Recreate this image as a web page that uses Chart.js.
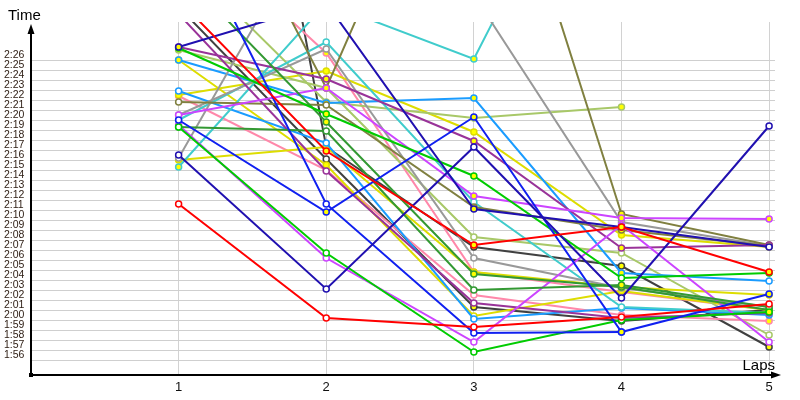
<!DOCTYPE html>
<html>
<head>
<meta charset="utf-8">
<script src="https://cdn.jsdelivr.net/npm/chart.js@4/dist/chart.umd.min.js"></script>
<style>
html, body { margin: 0; padding: 0; background: #fff; }
</style>
</head>
<body>
<canvas id="lapChart" width="800" height="400"></canvas>
<script>
// laps and tick labels
const laps = [1, 2, 3, 4, 5];
const lapLabels = ['1', '2', '3', '4', '5'];
const timeTicks = ['1:56','1:57','1:58','1:59','2:00','2:01','2:02','2:03','2:04','2:05','2:06','2:07','2:08','2:09','2:10',
	'2:11','2:12','2:13','2:14','2:15','2:16','2:17','2:18','2:19','2:20','2:21','2:22','2:23','2:24','2:25','2:26'];

// lap times in seconds, one array per driver (null = no lap)
const red1     = [131.6, 120.2, 119.3, 120.3, 121.6];
const red2     = [152.0, 136.9, 127.5, 129.3, 124.8];
const navy1    = [147.3, 151.7, 131.1, 129.3, 127.3];
const navy2    = [136.5, 123.1, 137.3, 122.2, 139.4];
const blue1    = [140.0, 130.8, 140.3, 118.8, 122.6];
const blue2    = [161.0, 131.6, 118.7, 118.8, null];
const green1   = [139.3, 126.7, 116.8, 120.0, 120.8];
const green2   = [147.2, 140.6, 134.4, 124.2, 124.7];
const dkgreen1 = [139.3, 138.9, 123.0, 123.5, 121.3];
const dkgreen2 = [155.0, 139.8, 124.6, 123.3, 121.0];
const magenta1 = [139.5, 126.2, 117.8, 129.5, 117.8];
const magenta2 = [140.5, 143.2, 132.4, 130.2, 130.1];
const purple1  = [147.3, 144.1, 137.9, 127.2, 127.5];
const purple2  = [150.6, 134.9, 121.7, 120.2, 120.7];
const olive1   = [171.8, 143.2, 177.0, 130.6, 127.5];
const olive2   = [141.8, 141.5, 131.3, 129.0, 127.4];
const gray1    = [140.5, 147.1, 126.2, 123.2, 121.3];
const gray2    = [136.2, 162.0, 152.5, 129.8, 127.4];
const teal1    = [140.0, 147.8, 131.8, 121.3, 120.7];
const teal2    = [135.3, 151.7, 146.1, 175.0, null];
const sky1     = [146.0, 141.7, 142.2, 124.7, 123.9];
const sky2     = [142.9, 137.7, 120.1, 121.2, 120.5];
const ltgreen1 = [156.4, 141.8, 140.2, 141.3, null];
const ltgreen2 = [147.0, 143.2, 128.3, 126.7, 118.5];
const yellow1  = [142.5, 144.9, 138.8, 128.5, 127.3];
const yellow2  = [136.0, 137.3, 124.8, 123.3, 122.5];
const yellow3  = [146.0, 135.5, 120.4, 122.9, 121.0];
const pink1    = [142.4, 135.0, 122.5, 120.5, 119.9];
const pink2    = [160.3, 146.7, 124.8, 122.8, 121.0];
const dkgray1  = [151.3, 136.1, 121.3, 119.9, 121.0];
const dkgray2  = [215.0, 137.3, 127.3, 125.4, 117.3];

// colour + marker fill (y = yellow dot, w = white dot)
const series = [
	[red1, '#ff0000', 'wwwww'], [red2, '#ff0000', 'wyyyy'],
	[navy1, '#2010b0', 'ywyww'], [navy2, '#2010b0', 'wwwww'],
	[blue1, '#1020f0', 'wyyyy'], [blue2, '#1020f0', 'wwwyw'],
	[green1, '#00cc00', 'wwwwy'], [green2, '#00cc00', 'yyywy'],
	[dkgreen1, '#339933', 'wwwyw'], [dkgreen2, '#339933', 'wyyyy'],
	[magenta1, '#cc44ff', 'ywwww'], [magenta2, '#cc44ff', 'wyyyy'],
	[purple1, '#993399', 'yyyyy'], [purple2, '#993399', 'wwwww'],
	[olive1, '#808040', 'wywyy'], [olive2, '#808040', 'wwyyy'],
	[gray1, '#999999', 'wwwww'], [gray2, '#999999', 'wwwyw'],
	[teal1, '#40cccc', 'wwwww'], [teal2, '#40cccc', 'ywyww'],
	[sky1, '#1a9cff', 'yyyyw'], [sky2, '#1a9cff', 'wwwww'],
	[ltgreen1, '#a8c868', 'wyyyw'], [ltgreen2, '#a8c868', 'yywww'],
	[yellow1, '#dddd00', 'yyyyy'], [yellow2, '#dddd00', 'yyyyy'], [yellow3, '#dddd00', 'yywyy'],
	[pink1, '#ff88aa', 'wwwwy'], [pink2, '#ff88aa', 'wyyyy'],
	[dkgray1, '#404040', 'wwyyw'], [dkgray2, '#404040', 'wyyyy']
];

function toSec(t) { //'2:26' -> 146
	let p = t.split(':');
	return parseInt(p[0]) * 60 + parseInt(p[1]);
}
function fmt(s) {
	let m = Math.floor(s / 60);
	let r = Math.round(s - m * 60);
	return m + ':' + (r < 10 ? '0' : '') + r;
}

let datasets = series.map(([vals, color, marks]) => ({
	data: vals.map((v, i) => ({ x: laps[i], y: v })),
	borderColor: color,
	borderWidth: 2,
	pointRadius: 3,
	pointBorderWidth: 1.5,
	pointBorderColor: color,
	pointBackgroundColor: vals.map((v, i) => marks[i] === 'y' ? '#ffff00' : '#ffffff'),
	tension: 0,
	spanGaps: false
}));

// axes with arrows, "Time" and "Laps"
const axesPlugin = {
	id: 'axesPlugin',
	afterDraw(chart) {
		const ctx = chart.ctx;
		const a = chart.chartArea;
		const x0 = a.left, y0 = a.bottom;
		ctx.save();
		ctx.strokeStyle = '#000';
		ctx.fillStyle = '#000';
		ctx.lineWidth = 2;
		ctx.beginPath();
		ctx.moveTo(x0, y0);
		ctx.lineTo(x0, 30);
		ctx.moveTo(x0, y0);
		ctx.lineTo(776, y0);
		ctx.stroke();
		ctx.beginPath(); //top arrow
		ctx.moveTo(x0, 24); ctx.lineTo(x0 - 3.5, 34); ctx.lineTo(x0 + 3.5, 34); ctx.closePath();
		ctx.fill();
		ctx.beginPath(); //right arrow
		ctx.moveTo(781, y0); ctx.lineTo(771, y0 - 3.5); ctx.lineTo(771, y0 + 3.5); ctx.closePath();
		ctx.fill();
		ctx.fillRect(x0 - 2, y0 - 2, 4, 4);
		ctx.font = '15px "Liberation Sans"';
		ctx.textBaseline = 'alphabetic';
		ctx.textAlign = 'left';
		ctx.fillText('Time', 8, 20);
		ctx.textAlign = 'right';
		ctx.fillText('Laps', 775, 370);
		ctx.restore();
	}
};

new Chart(document.getElementById('lapChart'), {
	type: 'line',
	data: { datasets: datasets },
	options: {
		responsive: false,
		animation: false,
		devicePixelRatio: 1,
		layout: { padding: { left: 4, top: 22, right: 25, bottom: 0 } },
		plugins: { legend: { display: false }, tooltip: { enabled: false } },
		scales: {
			x: {
				type: 'linear',
				min: 0,
				max: 5.04,
				afterFit: s => { s.height = 25; },
				afterBuildTicks: ax => { ax.ticks = [0].concat(laps).map(v => ({ value: v })); },
				border: { display: false },
				grid: {
					color: c => (c.tick && c.tick.value >= 1) ? '#d2d2d2' : 'rgba(0,0,0,0)',
					lineWidth: 1,
					tickLength: 0
				},
				ticks: {
					padding: 5,
					autoSkip: false,
					color: '#111',
					font: { family: '"Liberation Sans"', size: 13 },
					callback: v => v >= 1 ? lapLabels[v - 1] : ''
				}
			},
			y: {
				type: 'linear',
				min: 114.5,
				max: 149.8,
				afterFit: s => { s.width = 27; },
				afterBuildTicks: ax => { ax.ticks = timeTicks.map(t => ({ value: toSec(t) })); },
				border: { display: false },
				grid: { color: '#cfcfcf', lineWidth: 1, tickLength: 0 },
				ticks: {
					crossAlign: 'far',
					labelOffset: -5,
					padding: 0,
					autoSkip: false,
					color: '#2a1a10',
					font: { family: '"Liberation Sans"', size: 10.5 },
					callback: v => fmt(v)
				}
			}
		}
	},
	plugins: [axesPlugin]
});
</script>
</body>
</html>
